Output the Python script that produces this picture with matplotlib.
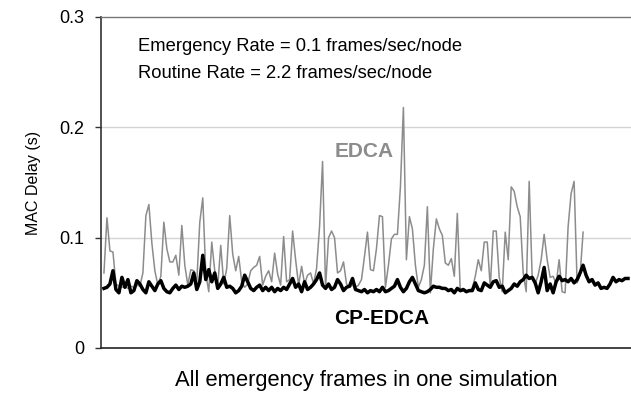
import matplotlib
matplotlib.use("Agg")
import matplotlib.pyplot as plt
import numpy as np

plt.rcParams['font.family'] = ['Liberation Sans', 'DejaVu Sans']

# MAC delay (s) per emergency frame
edca = [0.068, 0.118, 0.088, 0.087, 0.058, 0.056, 0.055, 0.056, 0.054, 0.056,
        0.055, 0.057, 0.056, 0.068, 0.120, 0.130, 0.095, 0.070, 0.057, 0.065,
        0.114, 0.090, 0.078, 0.078, 0.084, 0.066, 0.111, 0.075, 0.057, 0.071,
        0.070, 0.060, 0.114, 0.136, 0.068, 0.051, 0.096, 0.070, 0.056, 0.093,
        0.058, 0.072, 0.120, 0.085, 0.070, 0.083, 0.060, 0.055, 0.058, 0.070,
        0.073, 0.075, 0.083, 0.057, 0.065, 0.070, 0.060, 0.086, 0.067, 0.057,
        0.101, 0.060, 0.062, 0.106, 0.080, 0.057, 0.074, 0.058, 0.066, 0.068,
        0.058, 0.072, 0.110, 0.169, 0.055, 0.100, 0.106, 0.100, 0.068, 0.070,
        0.078, 0.058, 0.055, 0.057, 0.055, 0.057, 0.062, 0.083, 0.105, 0.071,
        0.070, 0.090, 0.120, 0.119, 0.055, 0.075, 0.099, 0.103, 0.103, 0.146,
        0.218, 0.080, 0.119, 0.108, 0.075, 0.055, 0.062, 0.075, 0.128, 0.050,
        0.090, 0.117, 0.108, 0.102, 0.077, 0.075, 0.081, 0.065, 0.122, 0.051,
        0.052, 0.051, 0.052, 0.054, 0.065, 0.080, 0.070, 0.096, 0.096, 0.055,
        0.106, 0.106, 0.064, 0.051, 0.105, 0.080, 0.146, 0.142, 0.128, 0.119,
        0.068, 0.051, 0.151, 0.064, 0.058, 0.066, 0.080, 0.103, 0.080, 0.064,
        0.065, 0.058, 0.080, 0.051, 0.050, 0.110, 0.140, 0.151, 0.059, 0.066,
        0.105]

cp_edca = [0.054, 0.055, 0.058, 0.070, 0.053, 0.050, 0.064, 0.055, 0.062, 0.050,
           0.052, 0.061, 0.058, 0.053, 0.050, 0.060, 0.056, 0.052, 0.058, 0.061,
           0.054, 0.051, 0.050, 0.054, 0.057, 0.053, 0.056, 0.055, 0.056, 0.058,
           0.068, 0.053, 0.060, 0.084, 0.062, 0.071, 0.060, 0.068, 0.054, 0.058,
           0.064, 0.055, 0.056, 0.054, 0.050, 0.052, 0.056, 0.066, 0.060, 0.054,
           0.052, 0.055, 0.057, 0.052, 0.055, 0.052, 0.055, 0.051, 0.054, 0.052,
           0.055, 0.053, 0.058, 0.063, 0.055, 0.058, 0.051, 0.060, 0.053, 0.055,
           0.058, 0.062, 0.068, 0.057, 0.054, 0.058, 0.053, 0.055, 0.062, 0.058,
           0.052, 0.055, 0.056, 0.063, 0.053, 0.052, 0.051, 0.053, 0.050, 0.052,
           0.051, 0.053, 0.051, 0.055, 0.051, 0.052, 0.054, 0.056, 0.062, 0.055,
           0.051, 0.054, 0.060, 0.064, 0.058, 0.052, 0.051, 0.050, 0.051, 0.053,
           0.056, 0.055, 0.055, 0.054, 0.054, 0.052, 0.053, 0.050, 0.054, 0.052,
           0.053, 0.051, 0.052, 0.052, 0.059, 0.053, 0.052, 0.059, 0.057, 0.055,
           0.060, 0.061, 0.055, 0.056, 0.050, 0.052, 0.054, 0.058, 0.056, 0.060,
           0.062, 0.066, 0.063, 0.064, 0.059, 0.050, 0.060, 0.073, 0.052, 0.058,
           0.050, 0.060, 0.065, 0.061, 0.062, 0.060, 0.063, 0.059, 0.062, 0.068,
           0.075, 0.066, 0.060, 0.062, 0.057, 0.059, 0.054, 0.055, 0.054, 0.058,
           0.064, 0.060, 0.062, 0.061, 0.063, 0.063]

y_ticks = [0, 0.1, 0.2, 0.3]
y_tick_labels = ['0', '0.1', '0.2', '0.3']

fig = plt.figure(figsize=(6.31, 3.94), dpi=100)
ax = fig.add_axes([0.160, 0.1168, 0.84, 0.8401])

ax.plot(np.arange(len(edca)), edca, color='#8c8c8c', lw=1.1, zorder=2)
ax.plot(np.arange(len(cp_edca)), cp_edca, color='black', lw=2.5, zorder=3)

ax.set_xlim(-1, 176)
ax.set_ylim(0, 0.3)
ax.set_yticks(y_ticks)
ax.set_yticklabels(y_tick_labels, fontsize=13)
ax.set_xticks([])
ax.tick_params(axis='y', length=4.3, width=1, color='#333333', pad=8)

for v in y_ticks[1:3]:
    ax.axhline(v, color='#d4d4d4', lw=1, zorder=1)

ax.spines['right'].set_visible(False)
ax.spines['top'].set_color('#777777')
ax.spines['top'].set_linewidth(1)
ax.spines['left'].set_color('#333333')
ax.spines['bottom'].set_color('#222222')
ax.spines['left'].set_linewidth(1.2)
ax.spines['bottom'].set_linewidth(1.2)

ax.set_ylabel('MAC Delay (s)', fontsize=11.5, labelpad=13)
ax.set_xlabel('All emergency frames in one simulation', fontsize=15.8, labelpad=16)

ax.text(0.07, 0.912, 'Emergency Rate = 0.1 frames/sec/node', transform=ax.transAxes,
        fontsize=13.2, va='center', ha='left')
ax.text(0.07, 0.828, 'Routine Rate = 2.2 frames/sec/node', transform=ax.transAxes,
        fontsize=13.2, va='center', ha='left')

ax.text(0.497, 0.595, 'EDCA', transform=ax.transAxes, fontsize=15,
        fontweight='bold', color='#8c8c8c', ha='center', va='center')
ax.text(0.53, 0.09, 'CP-EDCA', transform=ax.transAxes, fontsize=15,
        fontweight='bold', color='black', ha='center', va='center')

fig.savefig('out.png', dpi=100)
